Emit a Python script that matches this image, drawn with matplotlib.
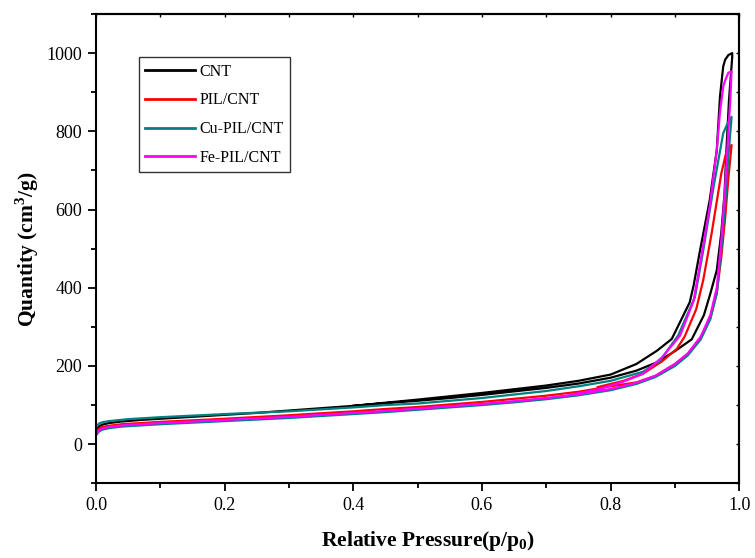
import matplotlib
matplotlib.use('Agg')
import matplotlib.pyplot as plt
from matplotlib.ticker import MultipleLocator

plt.rcParams['font.family'] = ['Liberation Serif', 'DejaVu Serif']
plt.rcParams['mathtext.fontset'] = 'custom'
plt.rcParams['mathtext.rm'] = 'Liberation Serif'
plt.rcParams['mathtext.bf'] = 'Liberation Serif:bold'

# ---- isotherm data (adsorption up, desorption back down) ----
cnt_ads_x = [0.001, 0.005, 0.01, 0.02, 0.04, 0.07, 0.1, 0.15, 0.2, 0.25, 0.3, 0.35, 0.4, 0.45, 0.5,
             0.55, 0.6, 0.65, 0.7, 0.75, 0.8, 0.84, 0.87, 0.9, 0.926, 0.945, 0.955, 0.965, 0.972,
             0.977, 0.98, 0.984, 0.989]
cnt_ads_y = [36, 46, 50, 54, 58, 62, 65, 70, 75, 80, 86, 92, 98, 105, 111,
             118, 126, 135, 144, 155, 170, 188, 208, 238, 268, 330, 385, 445, 540,
             640, 752, 880, 990]
cnt_des_x = [0.989, 0.983, 0.978, 0.975, 0.970, 0.965, 0.954, 0.938, 0.929, 0.923, 0.895, 0.872,
             0.84, 0.8, 0.75, 0.7, 0.6, 0.5, 0.45, 0.4]
cnt_des_y = [1000, 995, 983, 966, 889, 752, 624, 487, 406, 363, 269, 239,
             205, 178, 162, 150, 131, 114, 106, 98]

pil_ads_x = [0.001, 0.005, 0.01, 0.02, 0.04, 0.07, 0.1, 0.15, 0.2, 0.3, 0.4, 0.45, 0.5, 0.6, 0.7,
             0.75, 0.8, 0.84, 0.87, 0.9, 0.92, 0.94, 0.955, 0.965, 0.972, 0.978, 0.983, 0.988]
pil_ads_y = [32, 40, 44, 47, 51, 54, 57, 61, 65, 74, 84, 90, 95, 108, 124,
             134, 148, 158, 175, 205, 231, 270, 323, 388, 478, 578, 680, 765]
pil_des_x = [0.988, 0.980, 0.972, 0.957, 0.944, 0.933, 0.915, 0.903, 0.88, 0.85, 0.82, 0.78]
pil_des_y = [765, 748, 692, 539, 420, 345, 275, 244, 212, 180, 162, 146]

cu_ads_x = [0.001, 0.005, 0.01, 0.02, 0.04, 0.07, 0.1, 0.15, 0.2, 0.25, 0.3, 0.35, 0.4, 0.45, 0.5,
            0.55, 0.6, 0.65, 0.7, 0.75, 0.8, 0.84, 0.87, 0.9, 0.92, 0.94, 0.955, 0.965, 0.972,
            0.978, 0.983, 0.988]
cu_ads_y = [25, 33, 37, 41, 45, 48, 51, 55, 59, 63, 67, 72, 77, 82, 88,
            94, 100, 107, 115, 125, 138, 154, 172, 200, 227, 268, 320, 385, 495,
            615, 735, 837]
cu_des_x = [0.988, 0.983, 0.975, 0.96, 0.944, 0.931, 0.905, 0.877, 0.85, 0.8, 0.75, 0.7, 0.6,
            0.5, 0.45, 0.4, 0.3, 0.2, 0.1, 0.05, 0.02, 0.01, 0.005, 0.002]
cu_des_y = [837, 825, 795, 658, 496, 376, 278, 214, 185, 162, 148, 136, 118,
            104, 100, 94, 84, 77, 69, 64, 59, 56, 53, 48]

fe_ads_x = [0.001, 0.005, 0.01, 0.02, 0.04, 0.07, 0.1, 0.15, 0.2, 0.25, 0.3, 0.35, 0.4, 0.45, 0.5,
            0.55, 0.6, 0.65, 0.7, 0.75, 0.8, 0.84, 0.87, 0.9, 0.92, 0.94, 0.955, 0.965, 0.972,
            0.978, 0.983, 0.986, 0.988]
fe_ads_y = [28, 36, 40, 44, 48, 51, 54, 58, 62, 66, 70, 75, 80, 85, 91,
            97, 103, 110, 118, 128, 141, 157, 175, 205, 232, 275, 330, 400, 520,
            660, 800, 880, 953]
fe_des_x = [0.988, 0.983, 0.978, 0.975, 0.970, 0.965, 0.954, 0.940, 0.929, 0.908, 0.88, 0.85,
            0.82, 0.78, 0.74]
fe_des_y = [953, 950, 930, 914, 850, 752, 607, 470, 367, 278, 222, 180,
            160, 140, 127]

series = [
    ('CNT', cnt_ads_x, cnt_ads_y, cnt_des_x, cnt_des_y, 'black'),
    ('PIL/CNT', pil_ads_x, pil_ads_y, pil_des_x, pil_des_y, '#ff0000'),
    ('Cu-PIL/CNT', cu_ads_x, cu_ads_y, cu_des_x, cu_des_y, '#008080'),
    ('Fe-PIL/CNT', fe_ads_x, fe_ads_y, fe_des_x, fe_des_y, '#ff00ff'),
]

fig = plt.figure(figsize=(7.55, 5.58), dpi=100)
ax = fig.add_axes([0.1272, 0.1339, 0.852, 0.841])

for lab, ax_, ay_, dx_, dy_, c in series:
    ax.plot(list(ax_) + list(dx_), list(ay_) + list(dy_), '-', color=c, lw=1.6, label=lab)

ax.set_xlim(0, 1.0)
ax.set_ylim(-100, 1100)
ax.xaxis.set_major_locator(MultipleLocator(0.2))
ax.xaxis.set_minor_locator(MultipleLocator(0.1))
ax.yaxis.set_major_locator(MultipleLocator(200))
ax.yaxis.set_minor_locator(MultipleLocator(100))
ax.tick_params(which='major', direction='out', length=6, width=1.3, labelsize=13, pad=4)
ax.tick_params(which='minor', direction='out', length=3.5, width=1.3)
for s in ax.spines.values():
    s.set_linewidth(1.5)

# mirrored inward ticks on top and right
top = ax.secondary_xaxis('top')
top.xaxis.set_major_locator(MultipleLocator(0.1))
top.tick_params(direction='in', length=2.5, width=1.0, labeltop=False)
top.spines['top'].set_linewidth(1.5)
right = ax.secondary_yaxis('right')
right.yaxis.set_major_locator(MultipleLocator(100))
right.tick_params(direction='in', length=2.5, width=1.0, labelright=False)
right.spines['right'].set_linewidth(1.5)

ax.set_xlabel(r'Relative Pressure(p/p$_\mathbf{0}$)', fontsize=15.5, fontweight='bold')
ax.xaxis.set_label_coords(0.517, -0.097)
ax.set_ylabel(r'Quantity (cm$^\mathbf{3}$/g)', fontsize=15.5, fontweight='bold', labelpad=4)

leg = ax.legend(loc='upper left', bbox_to_anchor=(0.0668, 0.908), fontsize=11.5, frameon=True,
                fancybox=False, edgecolor='black', handlelength=3.1, handletextpad=0.3,
                labelspacing=0.8, borderpad=0.4, borderaxespad=0)
leg.get_frame().set_linewidth(1.0)
for l in leg.get_lines():
    l.set_linewidth(2.0)

fig.savefig('out.png', dpi=100)
